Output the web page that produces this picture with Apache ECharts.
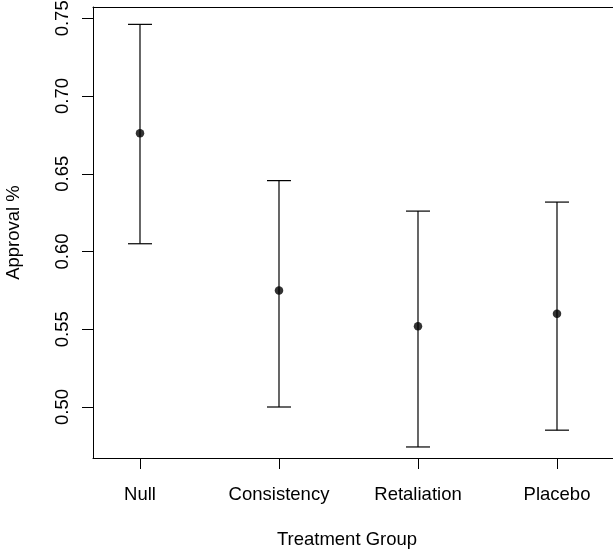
<!DOCTYPE html>
<html>
<head>
<meta charset="utf-8">
<script src="https://cdn.jsdelivr.net/npm/echarts@6/dist/echarts.min.js"></script>
<style>html,body{margin:0;padding:0;background:#fff;}#chart{width:613px;height:550px;}</style>
</head>
<body>
<div id="chart"></div>
<script>
const categories = ['Null', 'Consistency', 'Retaliation', 'Placebo'];
const means = [0.676, 0.575, 0.552, 0.560];
const lowers = [0.605, 0.500, 0.4743, 0.4851];
const uppers = [0.7461, 0.6456, 0.626, 0.6318];
const yTicks = [0.50, 0.55, 0.60, 0.65, 0.70, 0.75];
const xTicks = [1, 2, 3, 4];

const FONT = 'Liberation Sans, Arial, Helvetica, sans-serif';
const chart = echarts.init(document.getElementById('chart'), null, {renderer: 'canvas'});

const errData = categories.map((c, i) => [i + 1, lowers[i], uppers[i]]);
const ptData = categories.map((c, i) => [i + 1, means[i]]);

const xMin = 0.6619, xMax = 4.4029;

chart.setOption({
  backgroundColor: '#ffffff',
  animation: false,
  grid: {left: 93, right: 0, top: 7, bottom: 92, containLabel: false, outerBoundsMode: 'none'},
  xAxis: [{
    type: 'value', min: xMin, max: xMax, position: 'bottom',
    splitLine: {show: false},
    axisLine: {show: true, onZero: false, lineStyle: {color: '#000', width: 1}},
    axisTick: {show: true, length: 11, customValues: xTicks, lineStyle: {color: '#000', width: 1}},
    axisLabel: {
      show: true, customValues: xTicks, margin: 27, color: '#000',
      fontFamily: FONT, fontSize: 18.5,
      formatter: v => categories[Math.round(v) - 1] || ''
    },
    name: 'Treatment Group', nameLocation: 'middle', nameGap: 72,
    nameTextStyle: {color: '#000', fontFamily: FONT, fontSize: 18.5, padding: [0, 12, 0, 0]}
  }, {
    type: 'value', min: xMin, max: xMax, position: 'top',
    splitLine: {show: false},
    axisLine: {show: true, onZero: false, lineStyle: {color: '#000', width: 1}},
    axisTick: {show: false}, axisLabel: {show: false}
  }],
  yAxis: {
    type: 'value', min: 0.4672, max: 0.75727,
    splitLine: {show: false},
    axisLine: {show: true, onZero: false, lineStyle: {color: '#000', width: 1}},
    axisTick: {show: true, length: 11, customValues: yTicks, lineStyle: {color: '#000', width: 1}},
    axisLabel: {
      show: true, customValues: yTicks, rotate: 90, margin: 21, color: '#000',
      fontFamily: FONT, fontSize: 18.5,
      formatter: v => v.toFixed(2)
    },
    name: 'Approval %', nameLocation: 'middle', nameGap: 70,
    nameTextStyle: {color: '#000', fontFamily: FONT, fontSize: 18.5}
  },
  series: [{
    type: 'custom',
    data: errData,
    encode: {x: 0, y: [1, 2]},
    renderItem: function (params, api) {
      const x = api.value(0);
      const lo = api.coord([x, api.value(1)]);
      const hi = api.coord([x, api.value(2)]);
      const hw = 12;
      const st = {stroke: '#000', lineWidth: 1.2, fill: null};
      return {
        type: 'group',
        children: [
          {type: 'line', shape: {x1: lo[0], y1: lo[1], x2: hi[0], y2: hi[1]}, style: st},
          {type: 'line', shape: {x1: lo[0] - hw, y1: lo[1], x2: lo[0] + hw, y2: lo[1]}, style: st},
          {type: 'line', shape: {x1: hi[0] - hw, y1: hi[1], x2: hi[0] + hw, y2: hi[1]}, style: st}
        ]
      };
    },
    z: 2
  }, {
    type: 'scatter',
    data: ptData,
    symbol: 'circle', symbolSize: 8.5,
    itemStyle: {color: '#000'},
    z: 3
  }]
});
</script>
</body>
</html>
